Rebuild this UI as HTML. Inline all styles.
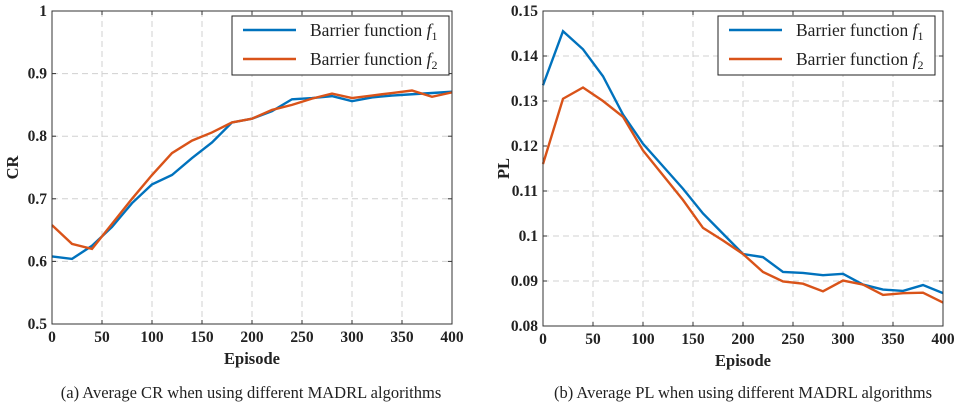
<!DOCTYPE html>
<html><head><meta charset="utf-8"><style>
body{margin:0;background:#fff;width:960px;height:411px;overflow:hidden;font-family:"Liberation Serif",serif}
svg text{font-family:"Liberation Serif",serif}
</style></head><body>
<svg id="s" width="960" height="411"></svg>
<script>
const episodes=[0,20,40,60,80,100,120,140,160,180,200,220,240,260,280,300,320,340,360,380,400];
const crF1=[.608,.604,.625,.655,.693,.723,.738,.765,.790,.822,.828,.840,.859,.861,.864,.856,.862,.865,.867,.869,.871];
const crF2=[.658,.628,.620,.660,.700,.738,.773,.793,.806,.822,.828,.842,.850,.860,.868,.861,.865,.869,.873,.863,.870];
const plF1=[.1335,.1455,.1415,.1355,.127,.1205,.1155,.1105,.105,.1005,.096,.0953,.092,.0918,.0913,.0916,.0892,.0881,.0878,.0891,.0873];
const plF2=[.116,.1305,.133,.130,.1265,.119,.1135,.108,.1018,.099,.096,.092,.0899,.0894,.0877,.0901,.0892,.0869,.0873,.0874,.0852];
const xTicks=[0,50,100,150,200,250,300,350,400];
const crTicks=[0.5,0.6,0.7,0.8,0.9,1];
const crLabels=["0.5","0.6","0.7","0.8","0.9","1"];
const plTicks=[0.08,0.09,0.1,0.11,0.12,0.13,0.14,0.15];
const plLabels=["0.08","0.09","0.1","0.11","0.12","0.13","0.14","0.15"];
const NS="http://www.w3.org/2000/svg",svg=document.getElementById('s');
function el(t,a,p){const e=document.createElementNS(NS,t);for(const k in a)e.setAttribute(k,a[k]);(p||svg).appendChild(e);return e;}
function chart(o){
 const g=el('g',{});
 
 
 const X=v=>o.x0+(v-0)/400*(o.x1-o.x0);
 const Y=v=>o.y1-(v-o.ymin)/(o.ymax-o.ymin)*(o.y1-o.y0);
 el('rect',{x:o.x0,y:o.y0,width:o.x1-o.x0,height:o.y1-o.y0,fill:'#fff'},g);
 xTicks.forEach(t=>{
  const l=el('line',{x1:X(t),x2:X(t),y1:o.y0,y2:o.y1,stroke:'#d0d0d0','stroke-dasharray':'6,4','stroke-width':1},g);
  
  el('line',{x1:X(t),x2:X(t),y1:o.y1,y2:o.y1-4,stroke:'#333'},g);
  el('line',{x1:X(t),x2:X(t),y1:o.y0,y2:o.y0+4,stroke:'#333'},g);
  const tx=el('text',{x:X(t),y:o.y1+18,'text-anchor':'middle','font-size':15.5,'font-weight':'bold',fill:'#222'},g);tx.textContent=t;
  
 });
 o.ticks.forEach((t,i)=>{
  if(i>0&&i<o.ticks.length-1){const l=el('line',{x1:o.x0,x2:o.x1,y1:Y(t),y2:Y(t),stroke:'#d0d0d0','stroke-dasharray':'6,4'},g);
  }
  el('line',{x1:o.x0,x2:o.x0+4,y1:Y(t),y2:Y(t),stroke:'#333'},g);
  el('line',{x1:o.x1,x2:o.x1-4,y1:Y(t),y2:Y(t),stroke:'#333'},g);
  const tx=el('text',{x:o.x0-5,y:Y(t)+5,'text-anchor':'end','font-size':15.5,'font-weight':'bold',fill:'#222'},g);tx.textContent=o.labels[i];
  
 });
 [[o.s1,'#0072BD','series-f1'],[o.s2,'#D95319','series-f2']].forEach(([d,c,n])=>{
  const p=el('polyline',{points:d.map((v,i)=>X(episodes[i])+','+Y(v)).join(' '),fill:'none',stroke:c,'stroke-width':2.4},g);
  
 });
 el('rect',{x:o.x0,y:o.y0,width:o.x1-o.x0,height:o.y1-o.y0,fill:'none',stroke:'#333','stroke-width':1},g);
 const xt=el('text',{x:(o.x0+o.x1)/2,y:o.y1+40,'text-anchor':'middle','font-size':16.5,'font-weight':'bold',fill:'#222'},g);xt.textContent='Episode';
 
 const yt=el('text',{x:0,y:0,'text-anchor':'middle','font-size':16.5,'font-weight':'bold',fill:'#222',transform:`translate(${o.x0-34},${(o.y0+o.y1)/2}) rotate(-90)`},g);yt.textContent=o.ylab;
 
 const lg=el('g',{},g);
 
 el('rect',{x:o.lx,y:16,width:217,height:59,fill:'#fff',stroke:'#222','stroke-width':1},lg);
 [['#0072BD','1',37],['#D95319','2',66]].forEach(([c,s,y])=>{
  el('line',{x1:o.lx+11,x2:o.lx+64,y1:y-7,y2:y-7,stroke:c,'stroke-width':2.4},lg);
  const t=el('text',{x:o.lx+78,y:y-1,'font-size':17.5,fill:'#222'},lg);
  t.innerHTML='Barrier function <tspan font-style="italic">f</tspan><tspan font-size="12" dy="4">'+s+'</tspan>';
  
 });
 const cap=el('text',{x:o.cx,y:398,'text-anchor':'middle','font-size':16.5,fill:'#222'},g);cap.textContent=o.cap;
 
}
chart({name:'cr-chart',x0:52,x1:452,y0:11,y1:324,ymin:0.5,ymax:1,ticks:crTicks,labels:crLabels,s1:crF1,s2:crF2,ylab:'CR',lx:232,cx:251,cap:'(a) Average CR when using different MADRL algorithms'});
chart({name:'pl-chart',x0:543,x1:943,y0:11,y1:326,ymin:0.08,ymax:0.15,ticks:plTicks,labels:plLabels,s1:plF1,s2:plF2,ylab:'PL',lx:718,cx:743,cap:'(b) Average PL when using different MADRL algorithms'});
</script>
</body></html>
